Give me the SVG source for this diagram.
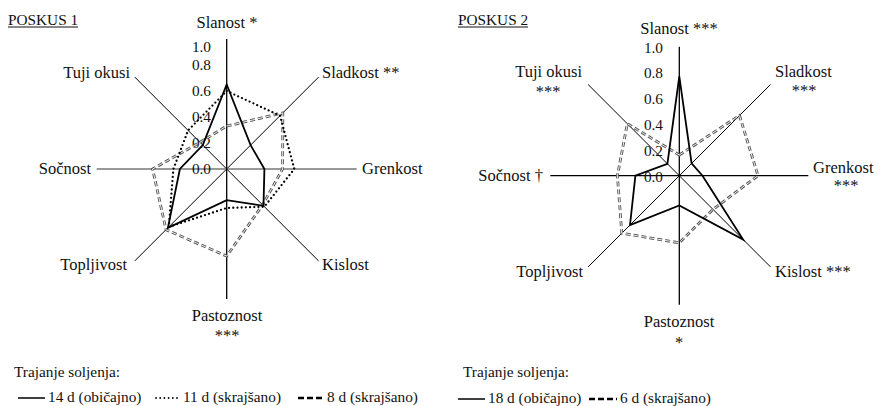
<svg xmlns="http://www.w3.org/2000/svg" width="878" height="406" viewBox="0 0 878 406">
<style>
text{font-family:"Liberation Serif","Times New Roman",serif;font-size:15.3px;fill:#111}
.l{font-size:16.5px}
.e{text-anchor:end}
.m{text-anchor:middle}
.ax{stroke:#000;stroke-width:1;fill:none}
.axh{stroke:#777;stroke-width:1.6;fill:none}
.axv{stroke:#000;stroke-width:1.3;fill:none}
.sol{stroke:#000;stroke-width:1.8;fill:none;stroke-linejoin:miter}
.dot{stroke:#000;stroke-width:2.3;fill:none;stroke-dasharray:0 4.2;stroke-linecap:round}
.dsh{stroke:#555;stroke-width:2.8;fill:none;stroke-dasharray:5 3}
.dshi{stroke:#fff;stroke-width:0.9;fill:none;stroke-dasharray:5 3}
.ldsh{stroke:#000;stroke-width:2.6;fill:none;stroke-dasharray:6 3}
.ul{stroke:#111;stroke-width:1}
</style>

<!-- POSKUS 1 -->
<g id="chart1">
  <g id="title1"><text x="8" y="25">POSKUS 1</text><line class="ul" x1="8" y1="27" x2="78" y2="27"/></g>
  <g id="axes1">
    <line class="ax" x1="226.7" y1="169" x2="318.6" y2="77.1"/>
    <line class="ax" x1="226.7" y1="169" x2="318.6" y2="260.9"/>
    <line class="ax" x1="226.7" y1="169" x2="134.8" y2="260.9"/>
    <line class="ax" x1="226.7" y1="169" x2="134.8" y2="77.1"/>
    <line class="axh" x1="96.7" y1="169" x2="356.7" y2="169"/>
    <line class="axv" x1="226.7" y1="39" x2="226.7" y2="299"/>
  </g>
  <g id="ticks1">
    <text class="e" x="211" y="52">1.0</text>
    <text class="e" x="211" y="70">0.8</text>
    <text class="e" x="211" y="96">0.6</text>
    <text class="e" x="211" y="122">0.4</text>
    <text class="e" x="211" y="148">0.2</text>
    <text class="e" x="211" y="174">0.0</text>
  </g>
  <g id="series1">
    <polygon class="dsh" points="226.7,126.1 282.8,112.9 282.6,169 262.6,204.9 226.7,256.1 166,229.7 152.6,169 200,142.3"/>
    <polygon class="dshi" points="226.7,126.1 282.8,112.9 282.6,169 262.6,204.9 226.7,256.1 166,229.7 152.6,169 200,142.3"/>
    <polygon class="dot" points="226.7,91 280,115.7 294.3,169 264.4,206.7 226.7,208 168.8,226.9 173.4,169 188.1,130.4"/>
    <polygon class="sol" points="226.7,84.5 250.6,145.1 264.4,169 263.5,205.8 226.7,200.2 167.9,227.8 179.9,169 202.8,145.1"/>
  </g>
  <g id="n1-slanost"><text class="l m" x="227" y="28">Slanost *</text></g>
  <g id="n1-sladkost"><text class="l" x="322" y="78">Sladkost **</text></g>
  <g id="n1-grenkost"><text class="l" x="362" y="174">Grenkost</text></g>
  <g id="n1-kislost"><text class="l" x="322" y="270">Kislost</text></g>
  <g id="n1-pastoznost"><text class="l m" x="227" y="321">Pastoznost</text><text class="l m" x="227" y="341">***</text></g>
  <g id="n1-topljivost"><text class="l e" x="127" y="270">Topljivost</text></g>
  <g id="n1-socnost"><text class="l e" x="91" y="174">Sočnost</text></g>
  <g id="n1-tuji"><text class="l e" x="130" y="78">Tuji okusi</text></g>
  <g id="legend1">
    <text x="14" y="377">Trajanje soljenja:</text>
    <line class="sol" x1="18" y1="398" x2="45" y2="398" style="stroke-width:1.5"/>
    <text x="48" y="402">14 d (običajno)</text>
    <line class="dot" x1="156" y1="398" x2="180" y2="398" style="stroke-width:1.8"/>
    <text x="183" y="402">11 d (skrajšano)</text>
    <line class="ldsh" x1="298" y1="398" x2="324" y2="398"/>
    <text x="327" y="402">8 d (skrajšano)</text>
  </g>
</g>

<!-- POSKUS 2 -->
<g id="chart2">
  <g id="title2"><text x="458" y="25">POSKUS 2</text><line class="ul" x1="458" y1="27" x2="528" y2="27"/></g>
  <g id="axes2">
    <line class="ax" x1="679.3" y1="175.7" x2="770.5" y2="84.5"/>
    <line class="ax" x1="679.3" y1="175.7" x2="770.5" y2="266.9"/>
    <line class="ax" x1="679.3" y1="175.7" x2="588.1" y2="266.9"/>
    <line class="ax" x1="679.3" y1="175.7" x2="588.1" y2="84.5"/>
    <line class="ax" x1="550.3" y1="175.7" x2="808.3" y2="175.7" style="stroke-width:1.2"/>
    <line class="axv" x1="679.3" y1="46.7" x2="679.3" y2="304.7"/>
  </g>
  <g id="ticks2">
    <text class="e" x="663" y="53">1.0</text>
    <text class="e" x="663" y="78">0.8</text>
    <text class="e" x="663" y="104">0.6</text>
    <text class="e" x="663" y="130">0.4</text>
    <text class="e" x="663" y="156">0.2</text>
    <text class="e" x="663" y="182">0.0</text>
  </g>
  <g id="series2">
    <polygon class="dsh" points="679.3,155 739.5,115.5 758,175.7 713,209.4 679.3,242.8 621.8,233.2 617.4,175.7 627.3,123.7"/>
    <polygon class="dshi" points="679.3,155 739.5,115.5 758,175.7 713,209.4 679.3,242.8 621.8,233.2 617.4,175.7 627.3,123.7"/>
    <polygon class="sol" points="679.3,76.4 691.6,163.4 702.5,175.7 743.1,239.5 679.3,205.4 630,225 635.4,175.7 667.4,163.8"/>
  </g>
  <g id="n2-slanost"><text class="l m" x="679" y="34">Slanost ***</text></g>
  <g id="n2-sladkost"><text class="l" x="775" y="77">Sladkost</text><text class="l m" x="804" y="96">***</text></g>
  <g id="n2-grenkost"><text class="l" x="813" y="173">Grenkost</text><text class="l m" x="846" y="191">***</text></g>
  <g id="n2-kislost"><text class="l" x="775" y="277">Kislost ***</text></g>
  <g id="n2-pastoznost"><text class="l m" x="679" y="327">Pastoznost</text><text class="l m" x="679" y="348">*</text></g>
  <g id="n2-topljivost"><text class="l e" x="583" y="277">Topljivost</text></g>
  <g id="n2-socnost"><text class="l e" x="543" y="181">Sočnost †</text></g>
  <g id="n2-tuji"><text class="l e" x="582" y="77">Tuji okusi</text><text class="l m" x="548" y="97">***</text></g>
  <g id="legend2">
    <text x="463" y="377">Trajanje soljenja:</text>
    <line class="sol" x1="458" y1="399" x2="485" y2="399" style="stroke-width:1.5"/>
    <text x="488" y="403">18 d (običajno)</text>
    <line class="ldsh" x1="589" y1="399" x2="617" y2="399"/>
    <text x="620" y="403">6 d (skrajšano)</text>
  </g>
</g>
</svg>
